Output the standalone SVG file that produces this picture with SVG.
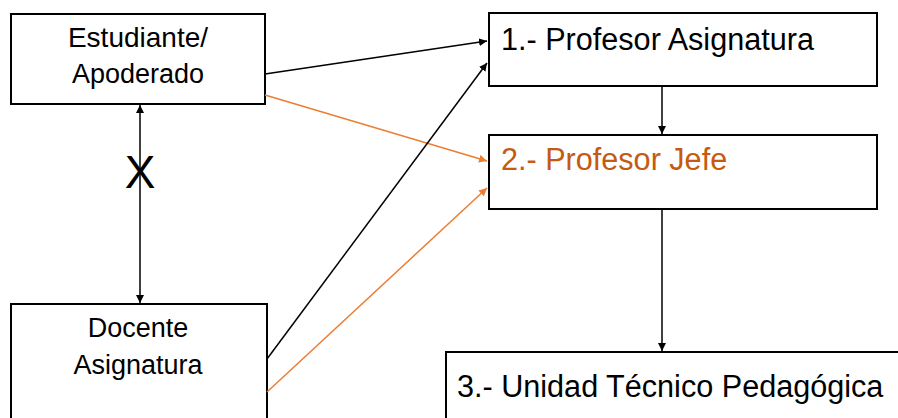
<svg xmlns="http://www.w3.org/2000/svg" width="898" height="418" viewBox="0 0 898 418">
<style>
.box{fill:#fff;stroke:#000;stroke-width:2}
.t{font-family:"Liberation Sans",Arial,sans-serif;fill:#000}
.l{font-size:27px;text-anchor:middle}
.r{font-size:30.6px}
.c{stroke:#000;stroke-width:1.5;fill:none}
.o{stroke:#ED7D31;stroke-width:1.5;fill:none}
</style>
<defs>
<marker id="ab" viewBox="0 0 10 10" refX="10" refY="5" markerWidth="8" markerHeight="8" markerUnits="userSpaceOnUse" orient="auto-start-reverse"><path d="M0,0 L10,5 L0,10 z" fill="#000"/></marker>
<marker id="ao" viewBox="0 0 10 10" refX="10" refY="5" markerWidth="8" markerHeight="8" markerUnits="userSpaceOnUse" orient="auto"><path d="M0,0 L10,5 L0,10 z" fill="#ED7D31"/></marker>
</defs>
<rect width="898" height="418" fill="#fff"/>
<g id="estudiante"><rect class="box" x="11" y="14" width="254" height="90"/><text class="t l" x="138" y="47" style="font-size:28px">Estudiante/</text><text class="t l" x="138" y="83">Apoderado</text></g>
<g id="docente"><rect class="box" x="11" y="304" width="256" height="130"/><text class="t l" x="138" y="337">Docente</text><text class="t l" x="138" y="374">Asignatura</text></g>
<g id="prof-asig"><rect class="box" x="489" y="13" width="388" height="73"/><text class="t r" x="501" y="50">1.- Profesor Asignatura</text></g>
<g id="prof-jefe"><rect class="box" x="489" y="135" width="388" height="74"/><text class="t r" x="501" y="170" style="fill:#C55A11">2.- Profesor Jefe</text></g>
<g id="utp"><rect class="box" x="446" y="352" width="470" height="90"/><text class="t r" x="457" y="397">3.- Unidad Técnico Pedagógica</text></g>
<g id="connectors">
<line class="c" x1="265" y1="74" x2="487" y2="41" marker-end="url(#ab)"/>
<line class="o" x1="265" y1="95" x2="487" y2="161" marker-end="url(#ao)"/>
<line class="c" x1="267" y1="359" x2="487" y2="63" marker-end="url(#ab)"/>
<line class="o" x1="267" y1="392" x2="487" y2="188" marker-end="url(#ao)"/>
<line class="c" x1="662" y1="86" x2="662" y2="134" marker-end="url(#ab)"/>
<line class="c" x1="662" y1="209" x2="662" y2="351" marker-end="url(#ab)"/>
<line class="c" x1="140" y1="105" x2="140" y2="303" marker-start="url(#ab)" marker-end="url(#ab)"/>
<text class="t" x="140" y="188" style="font-size:46px;text-anchor:middle">X</text>
</g>
</svg>
